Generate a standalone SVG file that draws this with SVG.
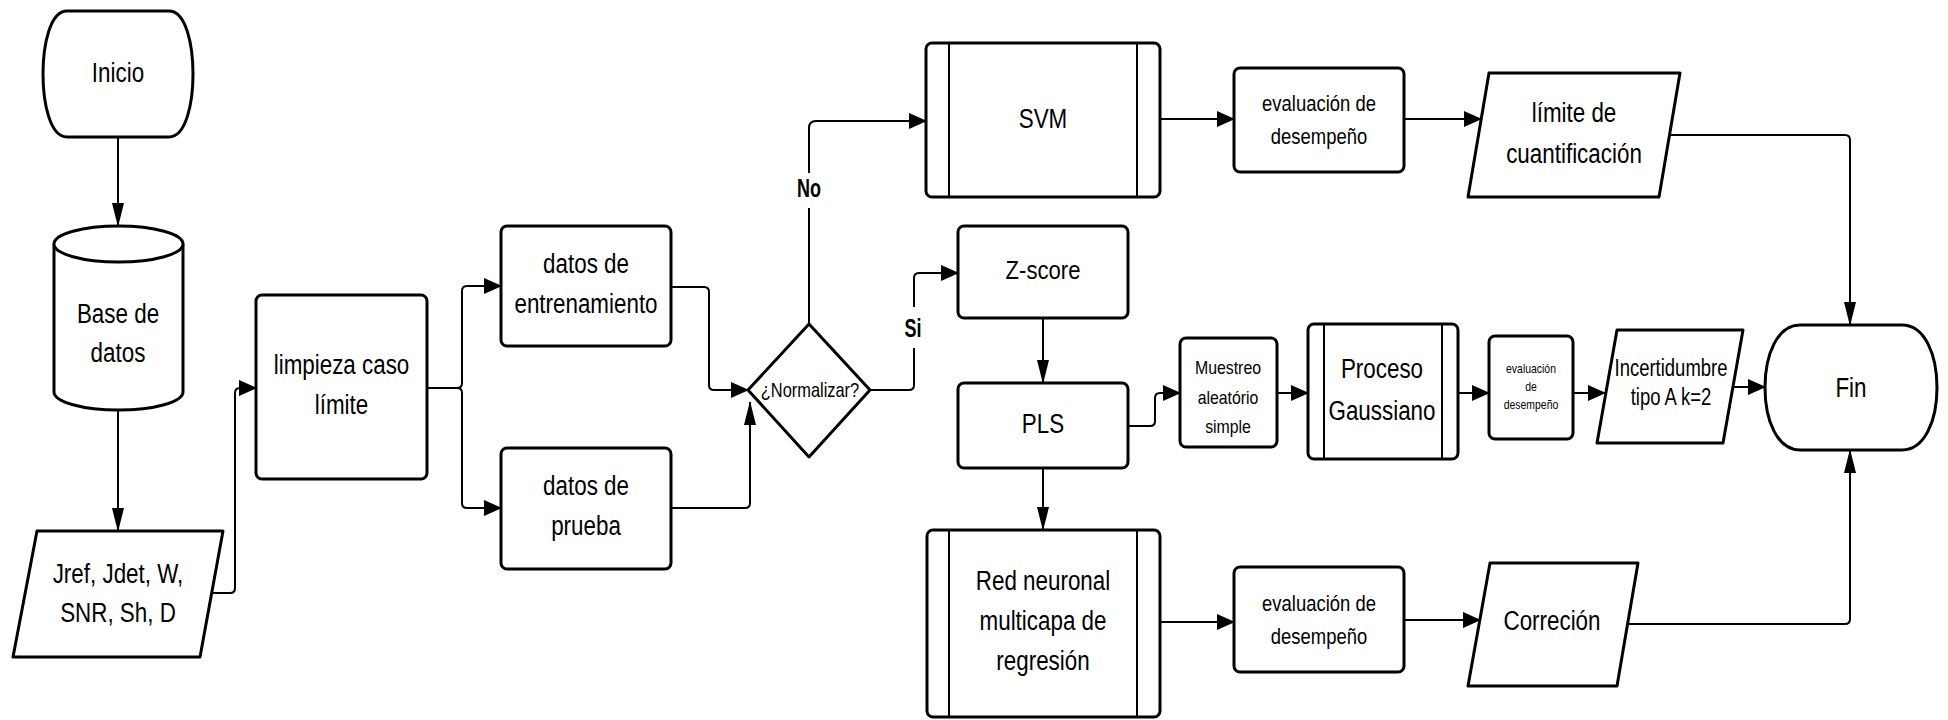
<svg xmlns="http://www.w3.org/2000/svg" width="1948" height="720" viewBox="0 0 1948 720">
<style>
.s{fill:#fff;stroke:#000;stroke-width:3;stroke-linejoin:round}
.l{fill:none;stroke:#000;stroke-width:2}
.c{fill:none;stroke:#000;stroke-width:2;stroke-linejoin:round}
.t{font-family:"Liberation Sans",Arial,sans-serif;fill:#000;text-anchor:middle;dominant-baseline:central}
.b{font-size:28px}
.lb{font-size:25px;font-weight:bold}
</style>
<defs>
<marker id="ah" markerUnits="userSpaceOnUse" markerWidth="18" markerHeight="16" refX="17" refY="8" orient="auto" viewBox="0 0 18 16"><path d="M0,0 L18,8 L0,16 z" fill="#000"/></marker>
<marker id="av" markerUnits="userSpaceOnUse" markerWidth="24" markerHeight="12" refX="23" refY="6" orient="auto" viewBox="0 0 24 12"><path d="M0,0 L24,6 L0,12 z" fill="#000"/></marker>
</defs>
<rect width="1948" height="720" fill="#fff"/>

<g id="connectors">
<path class="c" d="M118,137 V226" marker-end="url(#av)"/>
<path class="c" d="M118,410 V531" marker-end="url(#av)"/>
<path class="c" d="M212,593 H230 Q235,593 235,588 V393 Q235,388 240,388 H256" marker-end="url(#ah)"/>
<path class="c" d="M427,388 H457 Q462,388 462,383 V291 Q462,286 467,286 H501" marker-end="url(#ah)"/>
<path class="c" d="M457,388 Q462,388 462,393 V503 Q462,508 467,508 H501" marker-end="url(#ah)"/>
<path class="c" d="M671,287 H704 Q709,287 709,292 V385 Q709,390 714,390 H748" marker-end="url(#ah)"/>
<path class="c" d="M671,508 H745 Q750,508 750,503 V402" marker-end="url(#av)"/>
<path class="c" d="M809,324 V128 Q809,121 816,121 H926" marker-end="url(#ah)"/>
<path class="c" d="M870,390 H909 Q914,390 914,385 V278 Q914,273 919,273 H958" marker-end="url(#ah)"/>
<path class="c" d="M1160,119 H1234" marker-end="url(#ah)"/>
<path class="c" d="M1404,119 H1481" marker-end="url(#ah)"/>
<path class="c" d="M1670,135 H1845 Q1850,135 1850,140 V325" marker-end="url(#av)"/>
<path class="c" d="M1043,318 V383" marker-end="url(#av)"/>
<path class="c" d="M1128,426 H1150 Q1155,426 1155,421 V398 Q1155,393 1160,393 H1180" marker-end="url(#ah)"/>
<path class="c" d="M1277,393 H1308" marker-end="url(#ah)"/>
<path class="c" d="M1458,393 H1489" marker-end="url(#ah)"/>
<path class="c" d="M1573,393 H1605" marker-end="url(#ah)"/>
<path class="c" d="M1733,387 H1765" marker-end="url(#ah)"/>
<path class="c" d="M1043,468 V530" marker-end="url(#av)"/>
<path class="c" d="M1160,622 H1234" marker-end="url(#ah)"/>
<path class="c" d="M1404,620 H1480" marker-end="url(#ah)"/>
<path class="c" d="M1627,624 H1845 Q1850,624 1850,619 V450" marker-end="url(#av)"/>
<rect x="795" y="173" width="28" height="35" fill="#fff"/>
<text class="t lb" transform="translate(809,188) scale(0.72,1)">No</text>
<rect x="901" y="307" width="26" height="41" fill="#fff"/>
<text class="t lb" transform="translate(913,328) scale(0.72,1)">Si</text>
</g>

<g id="inicio">
<path class="s" d="M67,11 H169 C186,11 193,45 193,74 C193,103 186,137 169,137 H67 C50,137 43,103 43,74 C43,45 50,11 67,11 Z"/>
<text class="t b" transform="translate(118,72) scale(0.8,1)">Inicio</text>
</g>

<g id="base">
<path class="s" d="M54,244 V392 A64.5,18 0 0 0 183,392 V244 A64.5,18 0 0 0 54,244 Z"/>
<path class="s" d="M54,244 A64.5,18 0 0 0 183,244"/>
<text class="t b" transform="translate(118,0) scale(0.8,1)"><tspan x="0" y="313">Base de</tspan><tspan x="0" y="352">datos</tspan></text>
</g>

<g id="jref">
<polygon class="s" points="37,531 223,531 200,657 13,657"/>
<text class="t b" transform="translate(118,0) scale(0.8,1)"><tspan x="0" y="573">Jref, Jdet, W,</tspan><tspan x="0" y="612">SNR, Sh, D</tspan></text>
</g>

<g id="limpieza">
<rect class="s" x="256" y="295" width="171" height="184" rx="6"/>
<text class="t b" transform="translate(341.5,0) scale(0.8,1)"><tspan x="0" y="364">limpieza caso</tspan><tspan x="0" y="404">límite</tspan></text>
</g>

<g id="entrenamiento">
<rect class="s" x="501" y="226" width="170" height="120" rx="6"/>
<text class="t b" transform="translate(586,0) scale(0.8,1)"><tspan x="0" y="263">datos de</tspan><tspan x="0" y="303">entrenamiento</tspan></text>
</g>

<g id="prueba">
<rect class="s" x="501" y="448" width="170" height="121" rx="6"/>
<text class="t b" transform="translate(586,0) scale(0.8,1)"><tspan x="0" y="485">datos de</tspan><tspan x="0" y="525">prueba</tspan></text>
</g>

<g id="normalizar">
<polygon class="s" points="809,324 870,390 809,457 748,390"/>
<text class="t" style="font-size:20.5px" transform="translate(810,390) scale(0.8,1)">¿Normalizar?</text>
</g>

<g id="svm">
<rect class="s" x="926" y="43" width="234" height="154" rx="6"/>
<path class="l" d="M949,43 V197 M1137,43 V197"/>
<text class="t b" transform="translate(1043,118) scale(0.8,1)">SVM</text>
</g>

<g id="eval1">
<rect class="s" x="1234" y="68" width="170" height="104" rx="6"/>
<text class="t" style="font-size:22.5px" transform="translate(1319,0) scale(0.82,1)"><tspan x="0" y="102">evaluación de</tspan><tspan x="0" y="135">desempeño</tspan></text>
</g>

<g id="limite">
<polygon class="s" points="1489,73 1680,73 1659,197 1468,197"/>
<text class="t b" transform="translate(1574,0) scale(0.8,1)"><tspan x="0" y="112">límite de</tspan><tspan x="0" y="153">cuantificación</tspan></text>
</g>

<g id="zscore">
<rect class="s" x="958" y="226" width="170" height="92" rx="6"/>
<text class="t" style="font-size:26px" transform="translate(1043,270) scale(0.85,1)">Z-score</text>
</g>

<g id="pls">
<rect class="s" x="958" y="383" width="170" height="85" rx="6"/>
<text class="t b" transform="translate(1043,423) scale(0.8,1)">PLS</text>
</g>

<g id="muestreo">
<rect class="s" x="1180" y="338" width="97" height="109" rx="6"/>
<text class="t" style="font-size:18px" transform="translate(1228,0) scale(0.88,1)"><tspan x="0" y="368">Muestreo</tspan><tspan x="0" y="398">aleatório</tspan><tspan x="0" y="427">simple</tspan></text>
</g>

<g id="proceso">
<rect class="s" x="1308" y="324" width="150" height="135" rx="6"/>
<path class="l" d="M1324,324 V459 M1442,324 V459"/>
<text class="t b" transform="translate(1382,0) scale(0.8,1)"><tspan x="0" y="368">Proceso</tspan><tspan x="0" y="410">Gaussiano</tspan></text>
</g>

<g id="eval2">
<rect class="s" x="1489" y="336" width="84" height="103" rx="6"/>
<text class="t" style="font-size:12px" transform="translate(1531,0) scale(0.87,1)"><tspan x="0" y="369">evaluación</tspan><tspan x="0" y="387">de</tspan><tspan x="0" y="405">desempeño</tspan></text>
</g>

<g id="incertidumbre">
<polygon class="s" points="1617,330 1743,330 1723,443 1597,443"/>
<text class="t" style="font-size:24px" transform="translate(1671,0) scale(0.77,1)"><tspan x="0" y="368">Incertidumbre</tspan><tspan x="0" y="397">tipo A k=2</tspan></text>
</g>

<g id="fin">
<path class="s" d="M1800,325 H1902 C1925,325 1937,355 1937,387.5 C1937,420 1925,450 1902,450 H1800 C1777,450 1765,420 1765,387.5 C1765,355 1777,325 1800,325 Z"/>
<text class="t b" transform="translate(1851,387) scale(0.8,1)">Fin</text>
</g>

<g id="red">
<rect class="s" x="927" y="530" width="233" height="187" rx="6"/>
<path class="l" d="M949,530 V717 M1137,530 V717"/>
<text class="t b" transform="translate(1043,0) scale(0.8,1)"><tspan x="0" y="580">Red neuronal</tspan><tspan x="0" y="620">multicapa de</tspan><tspan x="0" y="660">regresión</tspan></text>
</g>

<g id="eval3">
<rect class="s" x="1234" y="567" width="170" height="105" rx="6"/>
<text class="t" style="font-size:22.5px" transform="translate(1319,0) scale(0.82,1)"><tspan x="0" y="602">evaluación de</tspan><tspan x="0" y="635">desempeño</tspan></text>
</g>

<g id="correcion">
<polygon class="s" points="1490,563 1638,563 1617,686 1468,686"/>
<text class="t b" transform="translate(1552,620) scale(0.8,1)">Correción</text>
</g>
</svg>
